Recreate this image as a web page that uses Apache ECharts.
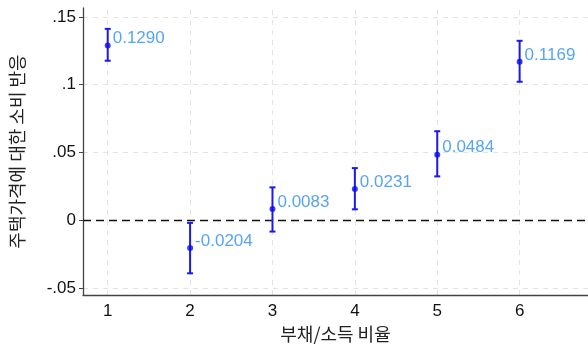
<!DOCTYPE html>
<html><head><meta charset="utf-8">
<script src="https://cdn.jsdelivr.net/npm/echarts@6/dist/echarts.min.js"></script>
<style>html,body{margin:0;padding:0;background:#fff}#c{width:588px;height:344px}</style>
</head><body><div id="c"></div>
<script>
const categories = [1, 2, 3, 4, 5, 6];
const estimates = [0.1290, -0.0204, 0.0083, 0.0231, 0.0484, 0.1169];
const lowerCI = [0.1177, -0.0391, -0.0083, 0.0081, 0.0324, 0.1022];
const upperCI = [0.1412, -0.0019, 0.0243, 0.0385, 0.0657, 0.1324];
const yTicks = [-0.05, 0, 0.05, 0.1, 0.15];
const labelText = ['0.1290', '-0.0204', '0.0083', '0.0231', '0.0484', '0.1169'];

const fmtY = v => v === 0 ? '0' : String(v).replace('0.', '.');
const gridStyle = { color: '#e3e3e3', type: [5, 5], width: 1 };

const chart = echarts.init(document.getElementById('c'), null, { renderer: 'canvas' });
chart.setOption({
  animation: false,
  textStyle: { fontFamily: 'Liberation Sans, Arial, sans-serif' },
  grid: { left: 83, right: 0, top: 8, bottom: 49, containLabel: false, outerBoundsMode: 'none' },
  xAxis: {
    type: 'value', min: 0.7, max: 6.83,
    name: '부채/소득 비율', nameLocation: 'middle', nameGap: 27,
    nameTextStyle: { fontFamily: 'Noto Sans CJK KR', fontSize: 18, color: '#222' },
    axisLine: { show: true, onZero: false, lineStyle: { color: '#444', width: 1.3 } },
    axisTick: { show: false, customValues: categories },
    axisLabel: { customValues: categories, fontSize: 17, color: '#111', margin: 8, formatter: v => String(v) },
    splitLine: { show: false }
  },
  yAxis: {
    type: 'value', min: -0.0551, max: 0.1566,
    name: '주택가격에 대한 소비 반응', nameLocation: 'middle', nameGap: 57, nameRotate: 90,
    nameTextStyle: { fontFamily: 'Noto Sans CJK KR', fontSize: 18, color: '#222' },
    axisLine: { show: true, onZero: false, lineStyle: { color: '#444', width: 1.3 } },
    axisTick: { show: true, customValues: yTicks, length: 4, lineStyle: { color: '#444' } },
    axisLabel: { customValues: yTicks, fontSize: 17, color: '#111', margin: 7, formatter: fmtY },
    splitLine: { show: false }
  },
  series: [
    {
      type: 'line', data: [], silent: true, z: 0,
      markLine: {
        silent: true, symbol: 'none', label: { show: false }, z: 0,
        lineStyle: gridStyle,
        data: categories.map(c => ({ xAxis: c })).concat(yTicks.filter(v => v !== 0).map(v => ({ yAxis: v })))
      }
    },
    {
      type: 'line', data: [], silent: true, z: 1,
      markLine: {
        silent: true, symbol: 'none', label: { show: false }, z: 1,
        lineStyle: { color: '#111', type: [8, 5], width: 1.3 },
        data: [{ yAxis: 0 }]
      }
    },
    {
      type: 'custom', z: 5,
      data: categories.map((c, i) => [c, lowerCI[i], upperCI[i]]),
      renderItem: (params, api) => {
        const x = api.value(0);
        const lo = api.coord([x, api.value(1)]);
        const hi = api.coord([x, api.value(2)]);
        const w = 3;
        const st = { stroke: '#1a1aee', lineWidth: 2 };
        return {
          type: 'group', children: [
            { type: 'line', shape: { x1: lo[0], y1: lo[1], x2: hi[0], y2: hi[1] }, style: st },
            { type: 'line', shape: { x1: lo[0] - w, y1: lo[1], x2: lo[0] + w, y2: lo[1] }, style: st },
            { type: 'line', shape: { x1: hi[0] - w, y1: hi[1], x2: hi[0] + w, y2: hi[1] }, style: st }
          ]
        };
      }
    },
    {
      type: 'scatter', symbol: 'circle', symbolSize: 6, z: 6,
      itemStyle: { color: '#0a0af0' },
      data: categories.map((c, i) => [c, estimates[i]]),
      label: {
        show: true, position: 'right', distance: 2, offset: [0, -7],
        color: '#2a8ef0', fontSize: 17,
        formatter: p => labelText[p.dataIndex]
      }
    }
  ]
});
</script></body></html>
